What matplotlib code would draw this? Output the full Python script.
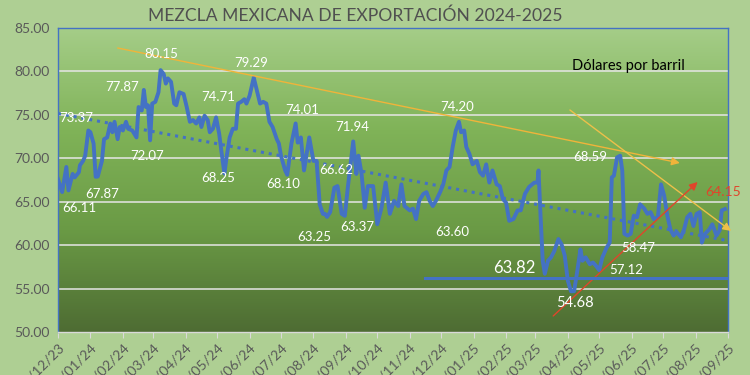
import datetime as dt
import numpy as np
import matplotlib
matplotlib.use("Agg")
import matplotlib.pyplot as plt
import matplotlib.dates as mdates
from matplotlib.colors import LinearSegmentedColormap

# precio diario (dias desde 01/12/23, dolares por barril)
dias = [0, 4, 8, 10, 14, 16, 20, 21, 24, 26, 29, 31, 34, 36, 38, 42, 44, 47, 50, 52,
        54, 57, 59, 62, 65, 67, 71, 75, 77, 80, 82, 84, 86, 88, 90, 93, 96, 98, 101, 103,
        105, 108, 111, 113, 116, 120, 123, 126, 129, 132, 135, 137, 140, 143, 145, 148, 151, 154, 156, 159,
        161, 164, 167, 170, 172, 175, 178, 180, 183, 187, 190, 193, 196, 199, 202, 205, 209, 211, 213, 217,
        219, 223, 227, 229, 232, 235, 237, 240, 244, 247, 250, 253, 255, 257, 260, 264, 267, 271, 274, 277,
        282, 285, 287, 290, 293, 296, 301, 305, 309, 313, 317, 321, 325, 328, 331, 336, 339, 342, 345, 349,
        352, 355, 358, 361, 365, 368, 371, 374, 377, 380, 383, 385, 388, 390, 393, 396, 400, 403, 406, 409,
        412, 415, 419, 422, 425, 428, 431, 435, 439, 442, 446, 450, 455, 458, 459, 461, 463, 465, 468, 471,
        474, 478, 481, 484, 487, 490, 493, 496, 499, 501, 504, 508, 511, 514, 517, 520, 524, 527, 529, 531,
        534, 537, 539, 541, 544, 547, 550, 553, 556, 560, 563, 566, 569, 573, 576, 579, 582, 585, 588, 591,
        595, 598, 601, 604, 607, 610, 613, 615, 618, 622, 625, 629, 632, 634, 637]
precio = [67.6, 66.11, 69.0, 66.3, 68.2, 67.8, 68.4, 69.2, 69.7, 70.3, 73.2, 73.0, 71.7, 67.87, 67.9, 69.7, 72.2, 72.4, 74.0, 73.0,
          74.2, 72.2, 73.6, 73.2, 74.2, 73.4, 73.2, 72.4, 75.9, 75.5, 77.87, 75.9, 76.1, 72.07, 76.3, 76.5, 77.6, 80.15, 79.7, 78.6,
          79.2, 78.8, 76.3, 76.1, 77.6, 77.4, 75.9, 74.2, 74.4, 74.0, 74.7, 73.6, 74.9, 74.4, 73.0, 73.4, 74.71, 72.8, 70.9, 68.25,
          70.1, 72.4, 73.4, 73.4, 76.3, 76.5, 76.8, 76.3, 77.2, 79.29, 77.8, 76.3, 76.5, 76.3, 74.2, 73.6, 72.2, 71.7, 70.3, 68.6,
          68.10, 71.7, 74.01, 71.8, 72.4, 68.6, 70.1, 72.4, 69.7, 69.7, 64.7, 63.6, 63.6, 63.25, 63.8, 66.62, 66.8, 63.6, 63.37, 66.8,
          71.94, 68.2, 70.3, 68.2, 64.3, 66.8, 66.8, 62.4, 64.3, 67.2, 63.6, 65.1, 64.5, 67.0, 64.5, 64.0, 64.2, 63.0, 65.1, 65.9,
          66.1, 65.1, 64.5, 65.1, 66.1, 67.0, 68.6, 69.0, 71.3, 73.2, 74.20, 73.0, 73.2, 71.3, 70.5, 69.3, 69.7, 68.4, 68.0, 69.3,
          67.2, 68.6, 67.0, 66.8, 65.3, 64.9, 62.8, 63.0, 64.0, 64.0, 65.9, 66.7, 67.2, 67.2, 68.6, 63.2, 58.2, 56.7, 58.2, 58.6,
          59.3, 60.7, 60.1, 58.8, 55.9, 54.68, 54.7, 57.0, 59.5, 58.2, 58.6, 57.8, 58.0, 57.6, 57.12, 58.6, 59.7, 60.3, 67.8, 68.0,
          70.1, 70.3, 68.59, 61.3, 61.1, 61.3, 63.4, 63.2, 64.7, 64.2, 63.6, 63.8, 63.0, 63.2, 67.0, 65.7, 63.4, 61.8, 61.1, 61.5,
          60.9, 61.8, 63.2, 63.6, 62.2, 63.6, 63.8, 60.3, 61.3, 61.8, 62.4, 61.1, 61.7, 64.0, 64.15]

inicio = dt.date(2023, 12, 1)
fin = dt.date(2025, 9, 1)

# etiquetas de maximos y minimos: (texto, dia, valor)
etiquetas = [("73.37", 17, 74.64), ("66.11", 20, 64.28), ("67.87", 42, 65.89), ("77.87", 61, 78.21),
             ("72.07", 85, 70.26), ("80.15", 99, 82.01), ("74.71", 153, 77.06), ("68.25", 153, 67.73),
             ("79.29", 185, 80.97), ("74.01", 233, 75.56), ("68.10", 215, 67.04), ("71.94", 281, 73.60),
             ("66.62", 266, 68.65), ("63.25", 245, 60.94), ("63.37", 286, 62.09), ("74.20", 381, 75.90),
             ("63.60", 377, 61.51), ("58.47", 554, 59.67), ("57.12", 543, 57.14), ("68.59", 508, 70.15)]

# lineas dibujadas a mano sobre la grafica: (dia0, valor0, dia1, valor1)
linea_max = (57, 82.7, 594, 69.46)
linea_baja = (489, 75.56, 643, 61.63)
linea_roja = (473, 51.84, 611, 67.27)
soporte = (351, 639, 56.2)

def fecha(d):
    return inicio + dt.timedelta(days=float(d))

fechas = [fecha(d) for d in dias]

fig = plt.figure(figsize=(7.5, 3.75), dpi=100)
fig.patch.set_facecolor('#AECF93')
ax = fig.add_axes([0.0773, 0.1147, 0.8934, 0.8106])

x0, x1 = mdates.date2num(inicio), mdates.date2num(fin)
ax.set_xlim(x0, x1)
ax.set_ylim(50, 85)

# fondo degradado (claro arriba, oscuro abajo)
cmap = LinearSegmentedColormap.from_list('verde', ['#A5CD88', '#80B358', '#6A9A45', '#4E6C33'])
grad = np.linspace(0, 1, 256).reshape(-1, 1)
ax.imshow(grad, aspect='auto', cmap=cmap, extent=(x0, x1, 50, 85), origin='upper', zorder=0)

for v in range(55, 86, 5):
    ax.axhline(v, color='#E6E6E6', lw=1.1, zorder=1)

# tendencia lineal
dd = np.array(dias, dtype=float)
m, b = np.polyfit(dd, np.array(precio), 1)
xt = np.array([0.0, float((fin - inicio).days)])
ax.plot([mdates.date2num(fecha(d)) for d in xt], m * xt + b, color='#4472C4', lw=2.2, ls=(0, (1, 1.6)), zorder=2)

ax.plot(fechas, precio, color='#4472C4', lw=2.8, solid_joinstyle='round', zorder=3)

# lineas de tendencia a mano
def flecha(seg, color, lw, cabeza=True):
    d0, v0, d1, v1 = seg
    p0 = (mdates.date2num(fecha(d0)), v0)
    p1 = (mdates.date2num(fecha(d1)), v1)
    style = '-|>' if cabeza else '-'
    ax.annotate('', xy=p1, xytext=p0, zorder=4, annotation_clip=False,
                arrowprops=dict(arrowstyle=style, color=color, lw=lw, mutation_scale=12,
                                shrinkA=0, shrinkB=0))

flecha(linea_max, '#F0B43A', 1.0)
flecha(linea_baja, '#EDC04A', 1.0)
flecha(linea_roja, '#E0452B', 1.0)
ax.plot([fecha(soporte[0]), fecha(soporte[1])], [soporte[2], soporte[2]], color='#4472C4', lw=2.2, zorder=4)

for txt, d, v in etiquetas:
    ax.text(fecha(d), v, txt, color='white', fontsize=9.5, ha='center', va='center',
            family='Lato', zorder=5)
ax.text(fecha(436), 57.37, '63.82', color='white', fontsize=12, ha='center', va='center', family='Lato', zorder=5)
ax.text(fecha(494), 53.34, '54.68', color='white', fontsize=10.5, ha='center', va='center', family='Lato', zorder=5)
ax.text(fecha(635), 66.12, '64.15', color='#E0452B', fontsize=10, ha='center', va='center', family='Lato',
        zorder=5, clip_on=False)
ax.text(fecha(545), 80.63, 'Dólares por barril', color='black', fontsize=10.5, ha='center', va='center',
        family='Lato', zorder=5)

fig.text(0.473, 0.958, 'MEZCLA MEXICANA DE EXPORTACIÓN 2024-2025', color='#505050', fontsize=12.6,
         ha='center', va='center', family='Lato')

ax.set_yticks(range(50, 86, 5))
ax.yaxis.set_major_formatter(plt.FuncFormatter(lambda v, p: f'{v:.2f}'))
ax.xaxis.set_major_locator(mdates.MonthLocator())
ax.xaxis.set_major_formatter(mdates.DateFormatter('%d/%m/%y'))
for lab in ax.get_xticklabels():
    lab.set_rotation(45)
    lab.set_ha('right')
    lab.set_rotation_mode('anchor')
ax.tick_params(axis='y', length=0, labelsize=10, labelcolor='#595959', pad=6)
ax.tick_params(axis='x', length=4, color='#D9D9D9', labelsize=10, labelcolor='#595959', pad=3)
for lab in ax.get_xticklabels() + ax.get_yticklabels():
    lab.set_family('Lato')

for s in ['left', 'right', 'top']:
    ax.spines[s].set_color('#4472C4')
    ax.spines[s].set_linewidth(1.0)
ax.spines['bottom'].set_color('#D9D9D9')
ax.spines['bottom'].set_linewidth(1.0)

fig.savefig('out.png', dpi=100, facecolor=fig.get_facecolor())
